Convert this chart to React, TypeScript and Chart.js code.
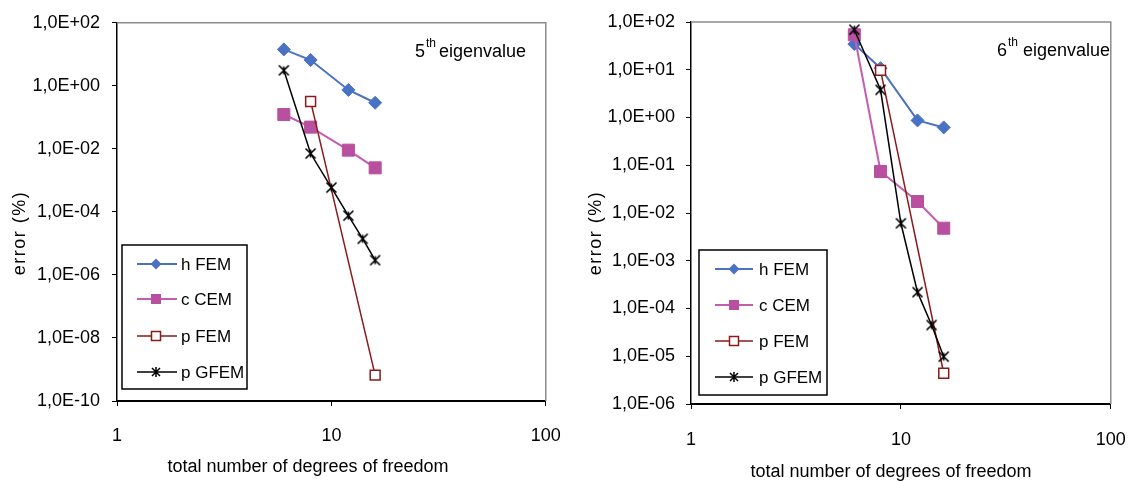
import React, { useEffect, useRef } from 'react';
import { Chart, registerables } from 'chart.js';

Chart.register(...registerables);

// ---------- data ----------
const xTickValues = [1, 10, 100];
const yTickValues5 = [1e-10, 1e-8, 1e-6, 1e-4, 1e-2, 1, 1e2];
const yTickValues6 = [1e-6, 1e-5, 1e-4, 1e-3, 1e-2, 1e-1, 1, 1e1, 1e2];

const seriesNames = ['h FEM', 'c CEM', 'p FEM', 'p GFEM'];

const hFemDof = [6, 8, 12, 16];
const cCemDof = [6, 8, 12, 16];
const pFemDof = [8, 16];
const pGfemDof = [6, 8, 10, 12, 14, 16];

// 5th eigenvalue
const hFem5 = [14.3, 6.6, 0.74, 0.29];
const cCem5 = [0.123, 0.049, 0.0091, 0.0025];
const pFem5 = [0.32, 6.6e-10];
const pGfem5 = [3.1, 0.0071, 5.9e-4, 7.6e-5, 1.4e-5, 2.95e-6];

// 6th eigenvalue
const hFem6 = [34.5, 10.8, 0.87, 0.62];
const cCem6 = [54, 0.074, 0.0174, 0.0048];
const pFem6 = [9.7, 4.4e-6];
const pGfem6 = [69, 3.8, 0.0061, 2.2e-4, 4.5e-5, 9.8e-6];

// ---------- styling ----------
const FONT = "'Liberation Sans', Arial, sans-serif";
const BLUE = '#4A72C4';
const MAGENTA = '#B8509F';
const MAGENTA_LINE = '#C45DB2';
const DARKRED = '#8B1A1A';

function fmtExp(v: number) {
  const e = Math.round(Math.log10(v));
  const sign = e < 0 ? '-' : '+';
  return '1,0E' + sign + String(Math.abs(e)).padStart(2, '0');
}

function makeStar(size: number, lw: number) {
  const c = document.createElement('canvas');
  c.width = size;
  c.height = size;
  const ctx = c.getContext('2d')!;
  ctx.strokeStyle = '#000';
  ctx.lineWidth = lw;
  const m = 1.5;
  ctx.beginPath();
  ctx.moveTo(m, m);
  ctx.lineTo(size - m, size - m);
  ctx.moveTo(size - m, m);
  ctx.lineTo(m, size - m);
  ctx.moveTo(size / 2, m + 1);
  ctx.lineTo(size / 2, size - m - 1);
  ctx.stroke();
  return c;
}

function pts(xs: number[], ys: number[]) {
  return xs.map((x, i) => ({ x, y: ys[i] }));
}

type Spec = {
  width: number;
  plotLeft: number;
  plotRight: number;
  plotTop: number;
  plotBottom: number;
  yMin: number;
  yTicks: number[];
  yLabelRight: number;
  xLabelCenterY: number;
  yTitleX: number;
  yTitleY: number;
  xTitleX: number;
  xTitleY: number;
  ordinal: string;
  eigX: number;
  eigRestX: number;
  eigBaseline: number;
  legend: { x0: number; x1: number; y0: number; y1: number; rows: number[]; lineX0: number; lineX1: number; markX: number; textX: number };
  h: number[];
  c: number[];
  p: number[];
  g: number[];
};

function drawLegendMarker(ctx: CanvasRenderingContext2D, i: number, x: number, y: number) {
  ctx.save();
  if (i === 0) {
    ctx.fillStyle = BLUE;
    ctx.beginPath();
    ctx.moveTo(x, y - 5.5);
    ctx.lineTo(x + 5.5, y);
    ctx.lineTo(x, y + 5.5);
    ctx.lineTo(x - 5.5, y);
    ctx.closePath();
    ctx.fill();
  } else if (i === 1) {
    ctx.fillStyle = MAGENTA;
    ctx.fillRect(x - 5, y - 5, 10, 10);
  } else if (i === 2) {
    ctx.fillStyle = '#fff';
    ctx.strokeStyle = DARKRED;
    ctx.lineWidth = 1.5;
    ctx.fillRect(x - 4.5, y - 4.5, 9, 9);
    ctx.strokeRect(x - 4.5, y - 4.5, 9, 9);
  } else {
    ctx.strokeStyle = '#000';
    ctx.lineWidth = 1.5;
    ctx.beginPath();
    ctx.moveTo(x - 4, y - 4);
    ctx.lineTo(x + 4, y + 4);
    ctx.moveTo(x + 4, y - 4);
    ctx.lineTo(x - 4, y + 4);
    ctx.moveTo(x, y - 5);
    ctx.lineTo(x, y + 5);
    ctx.stroke();
  }
  ctx.restore();
}

function buildConfig(spec: Spec): any {
  const star = makeStar(13, 1.6);
  const tickFont = { family: FONT, size: 18 };
  const lineColors = [BLUE, MAGENTA_LINE, DARKRED, '#000'];

  const decor = {
    id: 'decor',
    beforeDatasetsDraw(chart: any) {
      const { ctx, chartArea } = chart;
      ctx.save();
      ctx.strokeStyle = '#8C8C8C';
      ctx.lineWidth = 1.5;
      ctx.beginPath();
      ctx.moveTo(chartArea.left, chartArea.top);
      ctx.lineTo(chartArea.right, chartArea.top);
      ctx.lineTo(chartArea.right, chartArea.bottom);
      ctx.stroke();
      ctx.restore();
    },
    afterDraw(chart: any) {
      const { ctx } = chart;
      ctx.save();
      ctx.fillStyle = '#000';
      // y title
      ctx.save();
      ctx.translate(spec.yTitleX, spec.yTitleY);
      ctx.rotate(-Math.PI / 2);
      ctx.font = `18px ${FONT}`;
      (ctx as any).letterSpacing = '1.5px';
      ctx.textAlign = 'center';
      ctx.textBaseline = 'middle';
      ctx.fillText('error (%)', 0, 0);
      ctx.restore();
      // x title
      ctx.font = `18px ${FONT}`;
      ctx.textAlign = 'center';
      ctx.textBaseline = 'middle';
      ctx.fillText('total number of degrees of freedom', spec.xTitleX, spec.xTitleY);
      // eigenvalue label
      ctx.textAlign = 'left';
      ctx.textBaseline = 'alphabetic';
      ctx.font = `18px ${FONT}`;
      ctx.fillText(spec.ordinal, spec.eigX, spec.eigBaseline);
      const ow = ctx.measureText(spec.ordinal).width;
      ctx.font = `12px ${FONT}`;
      ctx.fillText('th', spec.eigX + ow + 1, spec.eigBaseline - 10);
      ctx.font = `18px ${FONT}`;
      ctx.fillText('eigenvalue', spec.eigRestX, spec.eigBaseline);
      // legend
      const L = spec.legend;
      ctx.fillStyle = '#fff';
      ctx.fillRect(L.x0, L.y0, L.x1 - L.x0, L.y1 - L.y0);
      ctx.strokeStyle = '#000';
      ctx.lineWidth = 1.5;
      ctx.strokeRect(L.x0, L.y0, L.x1 - L.x0, L.y1 - L.y0);
      seriesNames.forEach((name, i) => {
        const y = L.rows[i];
        ctx.strokeStyle = lineColors[i];
        ctx.lineWidth = i === 0 || i === 1 ? 2 : 1.5;
        ctx.beginPath();
        ctx.moveTo(L.lineX0, y);
        ctx.lineTo(L.lineX1, y);
        ctx.stroke();
        drawLegendMarker(ctx, i, L.markX, y);
        ctx.fillStyle = '#000';
        ctx.font = `17px ${FONT}`;
        ctx.textAlign = 'left';
        ctx.textBaseline = 'middle';
        ctx.fillText(name, L.textX, y + 1);
      });
      ctx.restore();
    },
  };

  return {
    type: 'scatter',
    data: {
      datasets: [
        {
          label: seriesNames[0],
          data: pts(hFemDof, spec.h),
          showLine: true,
          borderColor: BLUE,
          backgroundColor: BLUE,
          borderWidth: 2,
          pointStyle: 'rectRot',
          pointRadius: 6.5,
          pointBorderWidth: 1,
          pointBorderColor: BLUE,
          pointBackgroundColor: BLUE,
          order: 4,
          clip: false,
        },
        {
          label: seriesNames[1],
          data: pts(cCemDof, spec.c),
          showLine: true,
          borderColor: MAGENTA_LINE,
          backgroundColor: MAGENTA,
          borderWidth: 2,
          pointStyle: 'rect',
          pointRadius: 8.5,
          pointBorderWidth: 1,
          pointBorderColor: MAGENTA,
          pointBackgroundColor: MAGENTA,
          order: 3,
          clip: false,
        },
        {
          label: seriesNames[2],
          data: pts(pFemDof, spec.p),
          showLine: true,
          borderColor: DARKRED,
          backgroundColor: '#fff',
          borderWidth: 1.5,
          pointStyle: 'rect',
          pointRadius: 7,
          pointBorderWidth: 1.5,
          pointBorderColor: DARKRED,
          pointBackgroundColor: '#fff',
          order: 2,
          clip: false,
        },
        {
          label: seriesNames[3],
          data: pts(pGfemDof, spec.g),
          showLine: true,
          borderColor: '#000',
          backgroundColor: '#000',
          borderWidth: 1.5,
          pointStyle: star,
          pointRadius: 6,
          order: 1,
          clip: false,
        },
      ],
    },
    options: {
      animation: false,
      responsive: false,
      maintainAspectRatio: false,
      events: [],
      layout: {
        padding: { top: spec.plotTop, right: spec.width - spec.plotRight, left: 0, bottom: 0 },
      },
      plugins: {
        legend: { display: false },
        tooltip: { enabled: false },
        title: { display: false },
      },
      scales: {
        x: {
          type: 'logarithmic',
          position: 'bottom',
          min: 1,
          max: 100,
          afterFit: (s: any) => {
            s.height = 481 - spec.plotBottom;
          },
          afterBuildTicks: (s: any) => {
            s.ticks = xTickValues.map((v) => ({ value: v }));
          },
          ticks: {
            autoSkip: false,
            maxRotation: 0,
            color: '#000',
            font: tickFont,
            padding: spec.xLabelCenterY - spec.plotBottom - 5 - 10.8,
            callback: (v: any) => String(v),
          },
          grid: { drawOnChartArea: false, drawTicks: true, tickLength: 5, color: '#000', lineWidth: 1 },
          border: { display: true, color: '#000', width: 2 },
        },
        y: {
          type: 'logarithmic',
          position: 'left',
          min: spec.yMin,
          max: 100,
          afterFit: (s: any) => {
            s.width = spec.plotLeft;
          },
          afterBuildTicks: (s: any) => {
            s.ticks = spec.yTicks.map((v) => ({ value: v }));
          },
          ticks: {
            autoSkip: false,
            color: '#000',
            font: tickFont,
            padding: spec.plotLeft - 5 - spec.yLabelRight,
            callback: (v: any) => fmtExp(Number(v)),
          },
          grid: { drawOnChartArea: false, drawTicks: true, tickLength: 5, color: '#000', lineWidth: 1 },
          border: { display: true, color: '#000', width: 1.5 },
        },
      },
    },
    plugins: [decor],
  };
}

const spec5: Spec = {
  width: 580,
  plotLeft: 117,
  plotRight: 548,
  plotTop: 22,
  plotBottom: 401,
  yMin: 1e-10,
  yTicks: yTickValues5,
  yLabelRight: 100,
  xLabelCenterY: 436,
  yTitleX: 20,
  yTitleY: 233,
  xTitleX: 308,
  xTitleY: 467,
  ordinal: '5',
  eigX: 415,
  eigRestX: 439,
  eigBaseline: 56.5,
  legend: { x0: 122, x1: 247, y0: 245, y1: 389, rows: [264, 299, 336, 372], lineX0: 137, lineX1: 177, markX: 156, textX: 181 },
  h: hFem5,
  c: cCem5,
  p: pFem5,
  g: pGfem5,
};

const spec6: Spec = {
  width: 566,
  plotLeft: 111,
  plotRight: 546,
  plotTop: 22,
  plotBottom: 404,
  yMin: 1e-6,
  yTicks: yTickValues6,
  yLabelRight: 95,
  xLabelCenterY: 440,
  yTitleX: 16,
  yTitleY: 233,
  xTitleX: 311,
  xTitleY: 472,
  ordinal: '6',
  eigX: 417,
  eigRestX: 443,
  eigBaseline: 55.5,
  legend: { x0: 119, x1: 247, y0: 250, y1: 395, rows: [269, 305, 341, 377], lineX0: 135, lineX1: 173, markX: 154, textX: 179 },
  h: hFem6,
  c: cCem6,
  p: pFem6,
  g: pGfem6,
};

function ChartPanel({ spec, left }: { spec: Spec; left: number }) {
  const ref = useRef<HTMLCanvasElement>(null);
  useEffect(() => {
    const chart = new Chart(ref.current!, buildConfig(spec));
    return () => chart.destroy();
  }, [spec]);
  return (
    <canvas
      ref={ref}
      width={spec.width}
      height={481}
      style={{ position: 'absolute', left, top: 0, width: spec.width, height: 481, display: 'block' }}
    />
  );
}

export default function App() {
  return (
    <div style={{ position: 'absolute', left: 0, top: 0, width: 1146, height: 481, background: '#fff', overflow: 'hidden' }}>
      <ChartPanel spec={spec5} left={0} />
      <ChartPanel spec={spec6} left={580} />
    </div>
  );
}
